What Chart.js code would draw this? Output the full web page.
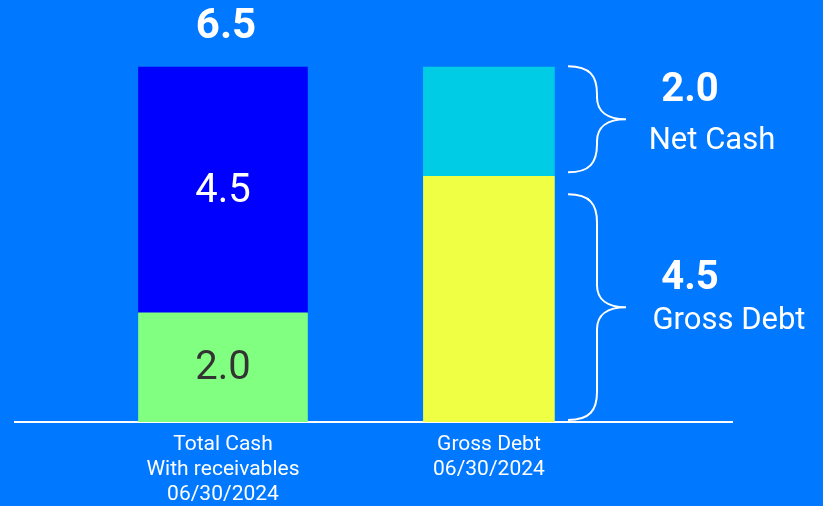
<!DOCTYPE html>
<html>
<head>
<meta charset="utf-8">
<script src="https://cdn.jsdelivr.net/npm/chart.js@4/dist/chart.umd.min.js"></script>
<style>
  html, body { margin: 0; padding: 0; background: #0078FF; }
  #wrap { width: 823px; height: 506px; }
</style>
</head>
<body>
<div id="wrap"><canvas id="c" width="823" height="506"></canvas></div>
<script>
// ---- data ----
const categories = [
  ["Total Cash", "With receivables", "06/30/2024"],
  ["Gross Debt", "06/30/2024"]
];
const receivables = [2.0, null];   // green, bottom of bar 1
const cash = [4.5, null];          // blue, top of bar 1
const grossDebt = [null, 4.5];     // yellow, bottom of bar 2
const netCash = [null, 2.0];       // cyan, top of bar 2
const totalCash = [6.5, null];     // label above bar 1
const braceLabels = ["Net Cash", "Gross Debt"];

const toPoints = arr => arr.map((v, i) => (v === null ? null : { x: i, y: v })).filter(p => p);

const FONT = "Roboto";

const bgPlugin = {
  id: "bg",
  beforeDraw(chart) {
    const c = chart.ctx;
    c.save();
    c.fillStyle = "#0078FF";
    c.fillRect(0, 0, chart.width, chart.height);
    c.restore();
  }
};

const labelPlugin = {
  id: "labels",
  afterDatasetsDraw(chart) {
    const c = chart.ctx;
    const ys = chart.scales.y;
    const xs = chart.scales.x;
    c.save();
    c.textAlign = "center";
    c.textBaseline = "middle";
    // values inside bar 1 segments
    chart.data.datasets.forEach((ds, di) => {
      if (!ds.inLabel) return;
      const meta = chart.getDatasetMeta(di);
      meta.data.forEach((el, i) => {
        const p = ds.data[i];
        const mid = (el.y + el.base) / 2;
        c.fillStyle = ds.inLabelColor;
        c.font = "400 40px " + FONT;
        c.fillText(p.y.toFixed(1), el.x, mid + 2);
      });
    });
    // total above bar 1
    totalCash.forEach((v, i) => {
      if (v === null) return;
      c.fillStyle = "#ffffff";
      c.font = "700 42px " + FONT;
      c.fillText(v.toFixed(1), xs.getPixelForValue(i) + 3, ys.getPixelForValue(v) - 40);
    });
    // braces next to bar 2
    const i2 = 1;
    const segs = [
      { lo: grossDebt[i2], hi: grossDebt[i2] + netCash[i2], val: netCash[i2], name: braceLabels[0], gapTop: -1, gapBot: -4, nameDx: 22, nameCx: 712 },
      { lo: 0, hi: grossDebt[i2], val: grossDebt[i2], name: braceLabels[1], gapTop: 18, gapBot: -2, nameDx: 14, nameCx: 729 }
    ];
    const x0 = 568;
    segs.forEach(s => {
      const top = ys.getPixelForValue(s.hi) + s.gapTop;
      const bot = ys.getPixelForValue(s.lo) + s.gapBot;
      const mid = (top + bot) / 2;
      const xv = 597, xt = 626, r = 28;
      c.strokeStyle = "#ffffff";
      c.lineWidth = 2;
      c.beginPath();
      c.moveTo(x0, top);
      c.bezierCurveTo(x0 + 22, top, xv, top + 10, xv, top + r);
      c.lineTo(xv, mid - r + 6);
      c.bezierCurveTo(xv, mid - 8, xv + 10, mid, xt, mid);
      c.bezierCurveTo(xv + 10, mid, xv, mid + 8, xv, mid + r - 6);
      c.lineTo(xv, bot - r);
      c.bezierCurveTo(xv, bot - 10, x0 + 22, bot, x0, bot);
      c.stroke();
      c.fillStyle = "#ffffff";
      c.font = "700 40px " + FONT;
      c.fillText(s.val.toFixed(1), 690, mid - 28);
      c.font = "400 31px " + FONT;
      c.fillText(s.name, s.nameCx, mid + s.nameDx);
    });
    c.restore();
  }
};

new Chart(document.getElementById("c"), {
  type: "bar",
  data: {
    datasets: [
      { label: "Receivables", data: toPoints(receivables), backgroundColor: "#80FF80", barThickness: 169, inLabel: true, inLabelColor: "#333333" },
      { label: "Cash", data: toPoints(cash), backgroundColor: "#0000FF", barThickness: 169, inLabel: true, inLabelColor: "#ffffff" },
      { label: "Gross Debt", data: toPoints(grossDebt), backgroundColor: "#EEFF44", barThickness: 131 },
      { label: "Net Cash", data: toPoints(netCash), backgroundColor: "#00CCE6", barThickness: 131 }
    ]
  },
  options: {
    responsive: false,
    animation: false,
    devicePixelRatio: 1,
    layout: { padding: { left: 15, right: 91, top: 0, bottom: -11 } },
    plugins: { legend: { display: false }, tooltip: { enabled: false } },
    scales: {
      x: {
        type: "linear",
        stacked: true,
        offset: false,
        min: -0.782,
        max: 1.914,
        grid: { display: false, drawTicks: false },
        border: { display: true, color: "#ffffff", width: 2 },
        afterBuildTicks: s => { s.ticks = categories.map((_, i) => ({ value: i })); },
        ticks: {
          color: "#ffffff",
          font: { family: FONT, size: 21, lineHeight: 1.19 },
          padding: 10,
          autoSkip: false,
          maxRotation: 0,
          callback: v => categories[v]
        }
      },
      y: { display: false, stacked: true, min: 0, max: 7.73 }
    }
  },
  plugins: [bgPlugin, labelPlugin]
});
</script>
</body>
</html>
